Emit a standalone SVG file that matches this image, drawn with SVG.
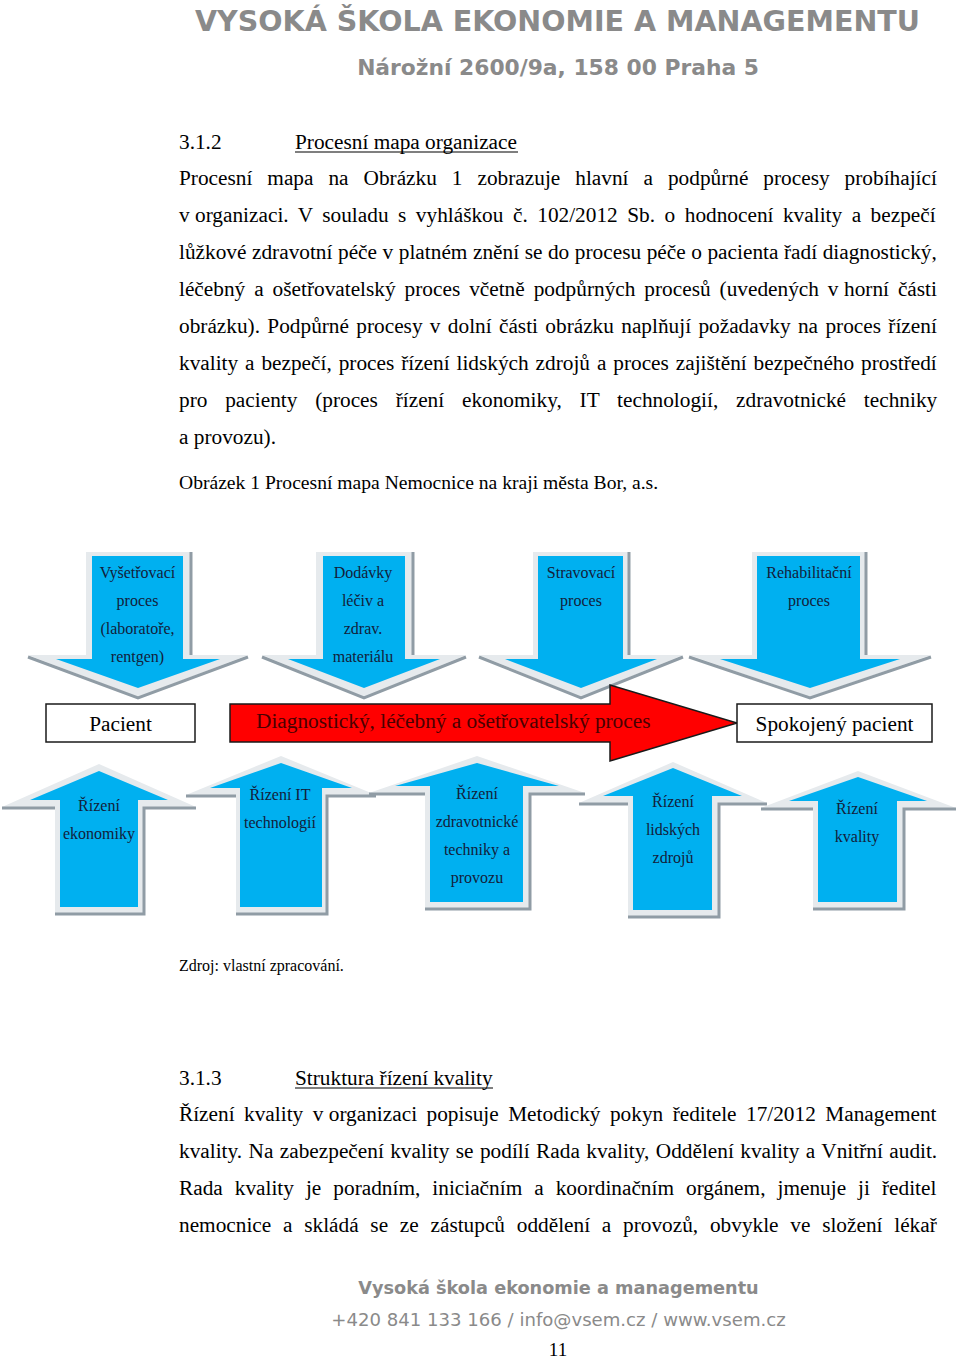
<svg xmlns="http://www.w3.org/2000/svg" width="960" height="1361" viewBox="0 0 960 1361">
<style>
.hdr{font-family:"DejaVu Sans","Verdana",sans-serif;font-weight:bold;fill:#8a8a8a;text-anchor:middle}
.ftr{font-family:"DejaVu Sans","Verdana",sans-serif;fill:#8a8a8a;text-anchor:middle}
.body{font-family:"Liberation Serif","Times New Roman",serif;font-size:21.3px;fill:#000}
.cap{font-family:"Liberation Serif","Times New Roman",serif;font-size:19.6px;fill:#000}
.src{font-family:"Liberation Serif","Times New Roman",serif;font-size:16px;fill:#000}
.lbl{font-family:"Liberation Serif","Times New Roman",serif;font-size:16px;fill:#13203a;text-anchor:middle}
.big{font-family:"Liberation Serif","Times New Roman",serif;font-size:21.3px;fill:#000;text-anchor:middle}
.box{fill:#fff;stroke:#1a1a1a;stroke-width:1.5}
.red{fill:#ff0000;stroke:#1a1a1a;stroke-width:1.5}
.outer{fill:#e6eaed}
.shade{fill:none;stroke:#909ca5;stroke-width:3}
.blue{fill:#00b0f0}
.ul{stroke:#000;stroke-width:1.2}
</style>

<!-- header -->
<text class="hdr" x="557.5" y="31" font-size="28.5" textLength="725" lengthAdjust="spacingAndGlyphs">VYSOKÁ ŠKOLA EKONOMIE A MANAGEMENTU</text>
<text class="hdr" x="558" y="75" font-size="21.8">Nárožní 2600/9a, 158 00 Praha 5</text>

<!-- section 3.1.2 -->
<text class="body" x="179" y="149">3.1.2</text>
<text class="body" x="295" y="149">Procesní mapa organizace</text>
<line class="ul" x1="295" y1="152" x2="518" y2="152"/>

<text class="body" x="179" y="185" word-spacing="9.67">Procesní mapa na Obrázku 1 zobrazuje hlavní a podpůrné procesy probíhající</text>
<text class="body" x="179" y="222" word-spacing="4.20">v<tspan x="195">organizaci. V souladu s vyhláškou č. 102/2012 Sb. o hodnocení kvality a bezpečí</tspan></text>
<text class="body" x="179" y="259" word-spacing="0.25">lůžkové zdravotní péče v platném znění se do procesu péče o pacienta řadí diagnostický,</text>
<text class="body" x="179" y="296" word-spacing="3.64">léčebný a ošetřovatelský proces včetně podpůrných procesů (uvedených v<tspan x="844">horní části</tspan></text>
<text class="body" x="179" y="333" word-spacing="2.01">obrázku). Podpůrné procesy v dolní části obrázku naplňují požadavky na proces řízení</text>
<text class="body" x="179" y="370" word-spacing="1.58">kvality a bezpečí, proces řízení lidských zdrojů a proces zajištění bezpečného prostředí</text>
<text class="body" x="179" y="407" word-spacing="12.5">pro pacienty (proces řízení ekonomiky, IT technologií, zdravotnické techniky</text>
<text class="body" x="179" y="444">a provozu).</text>

<text class="cap" x="179" y="489">Obrázek 1 Procesní mapa Nemocnice na kraji města Bor, a.s.</text>

<!-- top (down) arrows -->
<g id="down-vysetrovaci">
  <polygon class="outer" points="86,552 190,552 190,655 248,655 138,697 28,655 86,655"/>
  <polyline class="shade" points="191,552 191,655"/>
  <polyline class="shade" points="28,657 138,698 248,657"/>
  <polygon class="blue" points="92,556 183,556 183,659 220,659 138,688 56,659 92,659"/>
  <text class="lbl" x="137.5" y="577.5">Vyšetřovací</text>
  <text class="lbl" x="137.5" y="605.5">proces</text>
  <text class="lbl" x="137.5" y="633.5">(laboratoře,</text>
  <text class="lbl" x="137.5" y="661.5">rentgen)</text>
</g>
<g id="down-dodavky">
  <polygon class="outer" points="316,552 412,552 412,655 466,655 364,697 262,655 316,655"/>
  <polyline class="shade" points="413,552 413,655"/>
  <polyline class="shade" points="262,657 364,698 466,657"/>
  <polygon class="blue" points="323,556 405,556 405,659 440,659 364,688 288,659 323,659"/>
  <text class="lbl" x="363" y="577.5">Dodávky</text>
  <text class="lbl" x="363" y="605.5">léčiv a</text>
  <text class="lbl" x="363" y="633.5">zdrav.</text>
  <text class="lbl" x="363" y="661.5">materiálu</text>
</g>
<g id="down-stravovaci">
  <polygon class="outer" points="533,552 628,552 628,655 683,655 581,697 479,655 533,655"/>
  <polyline class="shade" points="629,552 629,655"/>
  <polyline class="shade" points="479,657 581,698 683,657"/>
  <polygon class="blue" points="538,556 623,556 623,659 657,659 581,688 505,659 538,659"/>
  <text class="lbl" x="581" y="577.5">Stravovací</text>
  <text class="lbl" x="581" y="605.5">proces</text>
</g>
<g id="down-rehabilitacni">
  <polygon class="outer" points="752,552 865,552 865,655 931,655 810,697 689,655 752,655"/>
  <polyline class="shade" points="866,552 866,655"/>
  <polyline class="shade" points="689,657 810,698 931,657"/>
  <polygon class="blue" points="757,556 860,556 860,659 900,659 810,688 720,659 757,659"/>
  <text class="lbl" x="809" y="577.5">Rehabilitační</text>
  <text class="lbl" x="809" y="605.5">proces</text>
</g>

<!-- middle row -->
<g id="pacient">
  <rect class="box" x="46" y="704" width="149" height="38"/>
  <text class="big" x="120.5" y="731">Pacient</text>
</g>
<g id="hlavni-proces">
  <polygon class="red" points="230,704 610,704 610,685 737,723 610,761 610,742 230,742"/>
  <text x="256" y="728" font-family="Liberation Serif, Times New Roman, serif" font-size="21.3" fill="#4a0000">Diagnostický, léčebný a ošetřovatelský proces</text>
</g>
<g id="spokojeny-pacient">
  <rect class="box" x="737" y="704" width="195" height="38"/>
  <text class="big" x="834.5" y="731">Spokojený pacient</text>
</g>

<!-- bottom (up) arrows -->
<g id="up-ekonomika">
  <polygon class="outer" points="99,764 196,807 143,807 143,913 55,913 55,807 2,807"/>
  <polyline class="shade" points="2,808 55,808"/>
  <polyline class="shade" points="196,808 144,808 144,914 55,914"/>
  <polygon class="blue" points="99,771 168,800 138,800 138,907 60,907 60,800 30,800"/>
  <text class="lbl" x="99" y="810.5">Řízení</text>
  <text class="lbl" x="99" y="838.5">ekonomiky</text>
</g>
<g id="up-it">
  <polygon class="outer" points="281,756 376,795 326,795 326,913 236,913 236,795 186,795"/>
  <polyline class="shade" points="186,796 236,796"/>
  <polyline class="shade" points="376,796 327,796 327,914 236,914"/>
  <polygon class="blue" points="281,763 352,788 322,788 322,907 240,907 240,788 210,788"/>
  <text class="lbl" x="280" y="799.5">Řízení IT</text>
  <text class="lbl" x="280" y="827.5">technologií</text>
</g>
<g id="up-technika">
  <polygon class="outer" points="477,756 585,793 529,793 529,908 425,908 425,793 369,793"/>
  <polyline class="shade" points="369,794 425,794"/>
  <polyline class="shade" points="585,794 530,794 530,909 425,909"/>
  <polygon class="blue" points="477,763 559,786 523,786 523,902 430,902 430,786 395,786"/>
  <text class="lbl" x="477" y="798.5">Řízení</text>
  <text class="lbl" x="477" y="826.5">zdravotnické</text>
  <text class="lbl" x="477" y="854.5">techniky a</text>
  <text class="lbl" x="477" y="882.5">provozu</text>
</g>
<g id="up-lidske-zdroje">
  <polygon class="outer" points="673,762 767,803 718,803 718,916 628,916 628,803 579,803"/>
  <polyline class="shade" points="579,804 628,804"/>
  <polyline class="shade" points="767,804 719,804 719,917 628,917"/>
  <polygon class="blue" points="673,768 742,796 712,796 712,910 633,910 633,796 603,796"/>
  <text class="lbl" x="673" y="806.5">Řízení</text>
  <text class="lbl" x="673" y="834.5">lidských</text>
  <text class="lbl" x="673" y="862.5">zdrojů</text>
</g>
<g id="up-kvalita">
  <polygon class="outer" points="858,771 956,808 903,808 903,908 813,908 813,808 761,808"/>
  <polyline class="shade" points="761,809 813,809"/>
  <polyline class="shade" points="956,809 904,809 904,909 813,909"/>
  <polygon class="blue" points="858,777 927,801 897,801 897,902 818,902 818,801 789,801"/>
  <text class="lbl" x="857" y="813.5">Řízení</text>
  <text class="lbl" x="857" y="841.5">kvality</text>
</g>

<g id="connectors"></g>

<text class="src" x="179" y="971">Zdroj: vlastní zpracování.</text>

<!-- section 3.1.3 -->
<text class="body" x="179" y="1085">3.1.3</text>
<text class="body" x="295" y="1085">Struktura řízení kvality</text>
<line class="ul" x1="295" y1="1088" x2="493" y2="1088"/>

<text class="body" x="179" y="1121" word-spacing="4.16">Řízení kvality v<tspan x="328.75">organizaci popisuje Metodický pokyn ředitele 17/2012 Management</tspan></text>
<text class="body" x="179" y="1158" word-spacing="1.1">kvality. Na zabezpečení kvality se podílí Rada kvality, Oddělení kvality a Vnitřní audit.</text>
<text class="body" x="179" y="1195" word-spacing="6.70">Rada kvality je poradním, iniciačním a koordinačním orgánem, jmenuje ji ředitel</text>
<text class="body" x="179" y="1232" word-spacing="6.43">nemocnice a skládá se ze zástupců oddělení a provozů, obvykle ve složení lékař</text>

<!-- footer -->
<text class="hdr" x="558.5" y="1294" font-size="17.7">Vysoká škola ekonomie a managementu</text>
<text class="ftr" x="558.5" y="1326" font-size="18.1">+420 841 133 166 / info@vsem.cz / www.vsem.cz</text>
<text x="558" y="1356" font-family="Liberation Serif, Times New Roman, serif" font-size="19" text-anchor="middle">11</text>
</svg>
